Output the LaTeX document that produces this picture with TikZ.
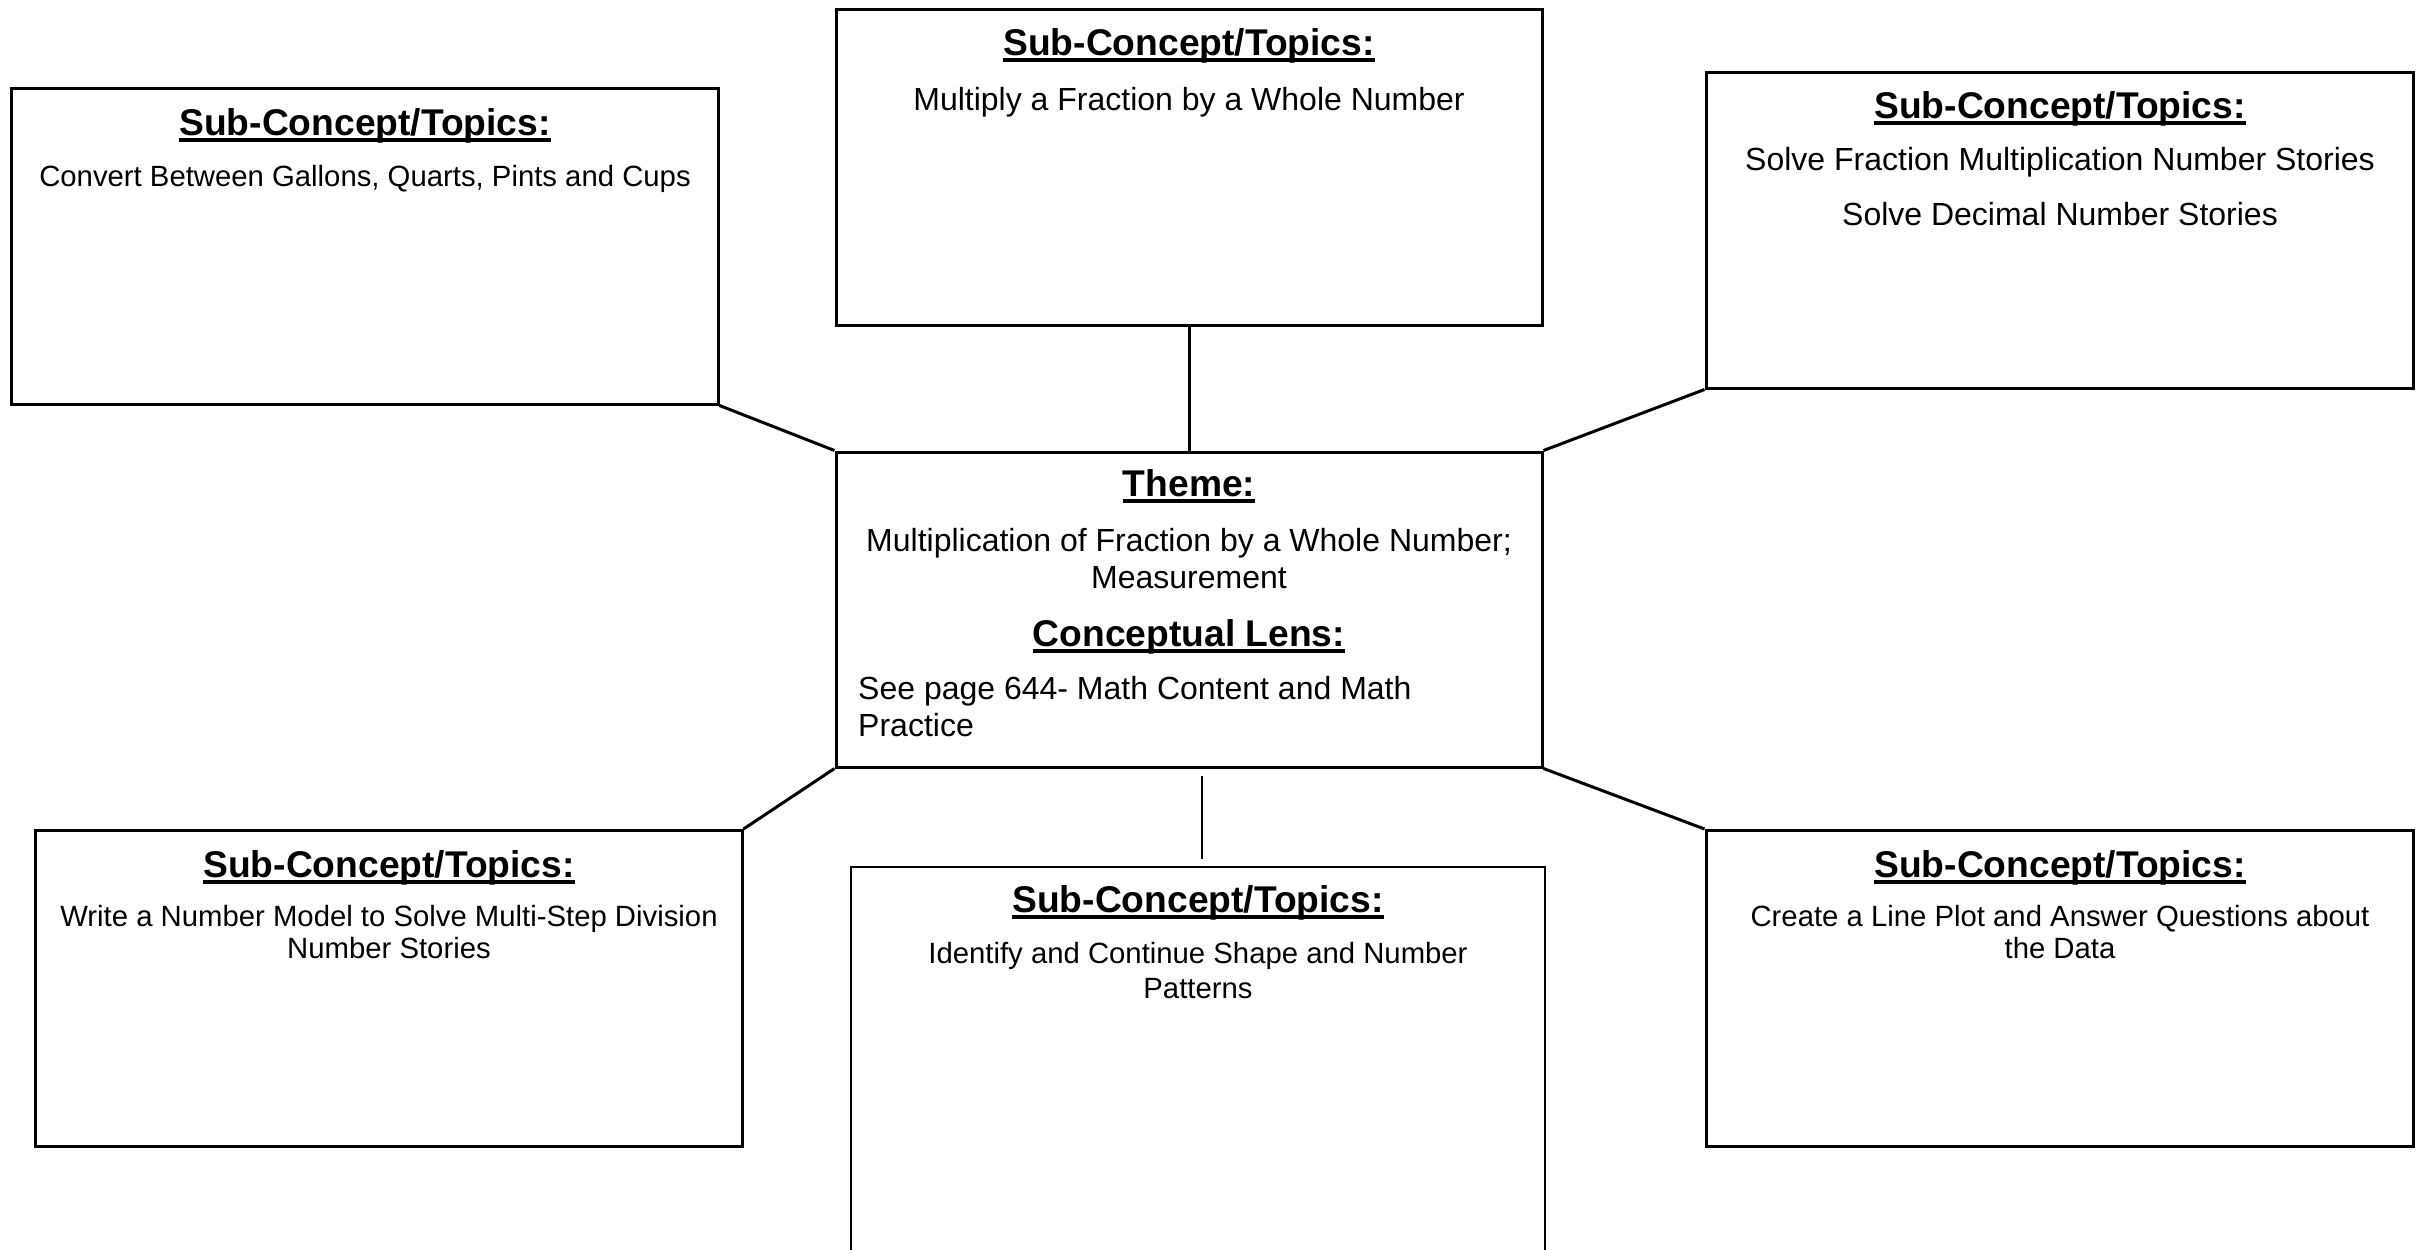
\documentclass[tikz,border=0pt]{standalone}
\usepackage{fontspec}
\setmainfont{Liberation Sans}
\usetikzlibrary{calc}
% bold heading with a heavy underline
\newcommand{\ulhead}[1]{\setbox0=\hbox{\bfseries #1}\rlap{\rule[-6.5bp]{\wd0}{3.2bp}}\box0}
\tikzset{
  topicbox/.style={draw, line width=3bp, minimum width=706bp, minimum height=316bp, inner sep=0pt},
  link/.style={line width=3bp},
  headtext/.style={anchor=base, inner sep=0pt, font=\fontsize{37.2bp}{42bp}\selectfont},
  smalltext/.style={anchor=base, inner sep=0pt, align=center, font=\fontsize{29.3bp}{33.5bp}\selectfont},
  bigtext/.style={anchor=base, inner sep=0pt, align=center, font=\fontsize{32bp}{36.7bp}\selectfont},
}
\begin{document}
\begin{tikzpicture}[x=1bp, y=-1bp]
\useasboundingbox (0,0) rectangle (2424,1249);
\clip (0,0) rectangle (2424,1249);

% boxes
\node[topicbox] (tl) at (365,246) {};
\node[topicbox] (tc) at (1189,167) {};
\node[topicbox, minimum width=707bp] (tr) at (2059.5,230) {};
\node[topicbox, minimum height=315bp] (th) at (1189,609.5) {};
\node[topicbox] (bl) at (389,988.5) {};
\node[topicbox, minimum width=707bp] (br) at (2059.5,988.5) {};
\node[topicbox, line width=2.2bp, minimum width=694bp, minimum height=500bp] (bc) at (1198,1117) {};

% connectors
\draw[link] (tl.south east) -- (th.north west);
\draw[link] (tc.south) -- (th.north);
\draw[link] (th.north east) -- (tr.south west);
\draw[link] (th.south west) -- (bl.north east);
\draw[link] (th.south east) -- (br.north west);
\coordinate (bcup) at (1201.5,776);
\coordinate (bcdown) at (1201.5,859);
\draw[line width=2bp] (bcup) -- (bcdown);

% top left
\node[headtext] (tlh) at (365,135) {\ulhead{Sub-Concept/Topics:}};
\node[smalltext] (tlt) at (365,186) {Convert Between Gallons, Quarts, Pints and Cups};

% top centre
\node[headtext] (tch) at (1189,55) {\ulhead{Sub-Concept/Topics:}};
\node[bigtext] (tct) at (1189,110) {Multiply a Fraction by a Whole Number};

% top right
\node[headtext] (trh) at (2060,118) {\ulhead{Sub-Concept/Topics:}};
\node[bigtext] (trt1) at (2060,170) {Solve Fraction Multiplication Number Stories};
\node[bigtext] (trt2) at (2060,225) {Solve Decimal Number Stories};

% theme (multi-line nodes sit on the baseline of their last line)
\node[headtext] (thh) at (1189,496) {\ulhead{Theme:}};
\node[bigtext] (tht) at (1189,588.3) {Multiplication of Fraction by a Whole Number;\\Measurement};
\node[headtext] (thl) at (1189,646) {\ulhead{Conceptual Lens:}};
\node[bigtext, align=left, anchor=base west] (thp) at (858,736) {See page 644- Math Content and Math\\Practice};

% bottom left
\node[headtext] (blh) at (389,877) {\ulhead{Sub-Concept/Topics:}};
\node[smalltext, font=\fontsize{29.3bp}{32.5bp}\selectfont] (blt) at (389,958.5) {Write a Number Model to Solve Multi-Step Division\\Number Stories};

% bottom centre
\node[headtext] (bch) at (1198,912) {\ulhead{Sub-Concept/Topics:}};
\node[smalltext, font=\fontsize{29.3bp}{35bp}\selectfont] (bct) at (1198,998) {Identify and Continue Shape and Number\\Patterns};

% bottom right
\node[headtext] (brh) at (2060,877) {\ulhead{Sub-Concept/Topics:}};
\node[smalltext, font=\fontsize{29.3bp}{32.5bp}\selectfont] (brt) at (2060,958.5) {Create a Line Plot and Answer Questions about\\the Data};
\end{tikzpicture}
\end{document}
